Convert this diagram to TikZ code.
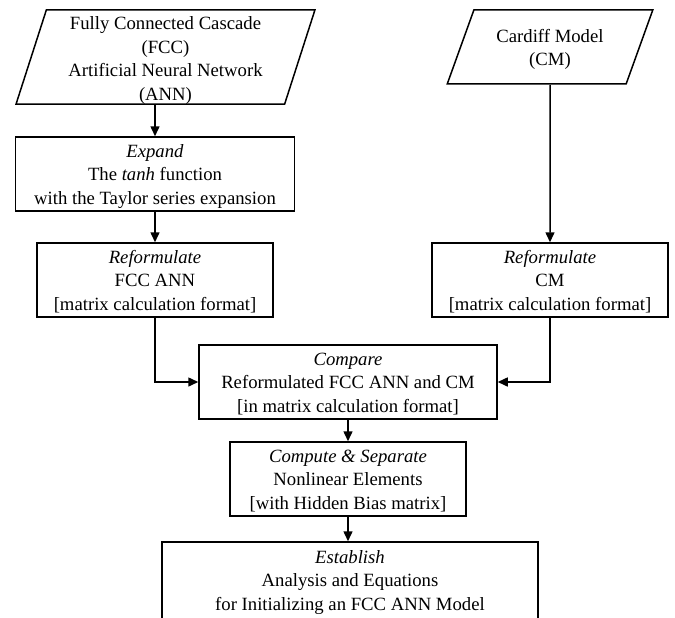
\documentclass[tikz,border=0pt]{standalone}
\usepackage{fontspec}
\setmainfont{Liberation Serif}
\usetikzlibrary{shapes.geometric,arrows.meta}

\begin{document}
\begin{tikzpicture}[x=1pt,y=-1pt,
    txt/.style={font=\fontsize{18.7}{23.5}\selectfont, align=center, inner sep=0pt},
    two/.style={text height=54pt, text depth=16pt},
    three/.style={text height=65.3pt, text depth=4.7pt},
    four/.style={text height=89pt, text depth=3pt},
    box/.style={txt, three, draw, line width=1.5pt, rectangle, minimum width=#1, minimum height=74pt},
    box/.default=236pt,
    io/.style={txt, draw, line width=1.5pt, trapezium, trapezium stretches=true,
      trapezium left angle=75, trapezium right angle=105},
    arr/.style={-{Triangle[length=10pt,width=9pt]}, line width=1.5pt}]
    \useasboundingbox (0,0) rectangle (675,618);

    % Inputs
    \node[io, four, minimum width=299pt, minimum height=94pt] (fcc) at (165.5,57)
      {Fully Connected Cascade\\(FCC)\\Artificial Neural Network\\(ANN)};
    \node[io, two, minimum width=206pt, minimum height=74pt] (cm) at (550,47)
      {Cardiff Model\\(CM)};

    % Steps
    \node[box=279pt] (expand) at (155,174)
      {\textit{Expand}\\The \textit{tanh} function\\with the Taylor series expansion};
    \node[box] (reffcc) at (155,280)
      {\textit{Reformulate}\\FCC ANN\\{[matrix calculation format]}};
    \node[box] (refcm) at (550,280)
      {\textit{Reformulate}\\CM\\{[matrix calculation format]}};
    \node[box=298pt] (compare) at (348,382)
      {\textit{Compare}\\Reformulated FCC ANN and CM\\{[in matrix calculation format]}};
    \node[box] (compute) at (348,479)
      {\textit{Compute \& Separate}\\Nonlinear Elements\\{[with Hidden Bias matrix]}};
    \node[box=376pt, minimum height=82pt, text height=67pt, text depth=13pt] (establish) at (350,583)
      {\textit{Establish}\\Analysis and Equations\\for Initializing an FCC ANN Model};

    % Flow
    \draw[arr] (expand.north |- fcc.south) -- (expand.north);
    \draw[arr] (expand) -- (reffcc);
    \draw[arr] (cm.south) -- (refcm.north);
    \draw[arr] (reffcc.south) |- (compare.west);
    \draw[arr] (refcm.south) |- (compare.east);
    \draw[arr] (compare) -- (compute);
    \draw[arr] (compute.south) -- (compute.south |- establish.north);
\end{tikzpicture}
\end{document}
